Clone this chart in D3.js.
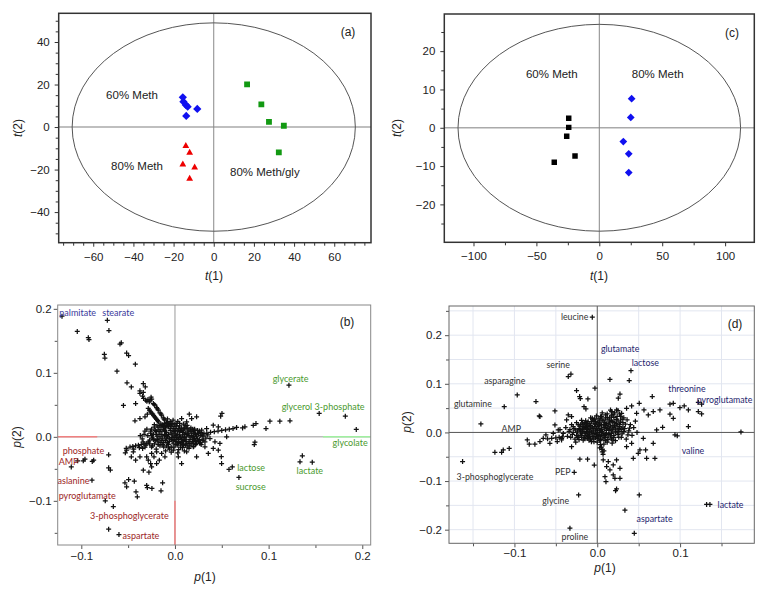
<!DOCTYPE html>
<html><head><meta charset="utf-8">
<script src="https://cdn.jsdelivr.net/npm/d3@7"></script>
<style>body{margin:0;background:#fff}svg{display:block}</style>
</head><body>
<svg id="c" width="774" height="593"></svg>
<script>
// ---------- DATA ----------
// Panel (a) scores
const scoresA_60 = [[-15.4,14.0],[-15.1,11.9],[-13.9,10.4],[-13.0,9.6],[-8.2,8.5],[-13.7,5.2]];
const scoresA_gly = [[16.6,20.1],[23.7,10.7],[27.5,2.4],[34.9,0.6],[32.4,-11.9]];
const scoresA_80 = [[-13.9,-8.9],[-12.0,-12.1],[-15.4,-17.6],[-9.5,-19.0],[-12.0,-24.3]];
const groupLabelsA = [["60% Meth",-53.6,15.1],["80% Meth",-51.1,-18.2],["80% Meth/gly",8.1,-21.0]];
const ellipseA = [70.5,49];
const xMajorA = [-60,-40,-20,0,20,40,60];
const xMinorA = [-75,-70,-65,-55,-50,-45,-35,-30,-25,-15,-10,-5,5,10,15,25,30,35,45,50,55,65,70,75];
const yMajorA = [-40,-20,0,20,40];
const yMinorA = [-50,-45,-35,-30,-25,-15,-10,-5,5,10,15,25,30,35,45,50];

// Panel (c) scores
const scoresC_60 = [[-24.3,2.5],[-24.3,0.1],[-25.9,-2.2],[-19.3,-7.4],[-35.8,-9.0]];
const scoresC_80 = [[25.7,7.6],[25.0,2.7],[19.1,-3.6],[23.4,-6.8],[23.4,-11.7]];
const groupLabelsC = [["60% Meth",-58.3,14.0],["80% Meth",25.8,14.0]];
const ellipseC = [112.3,27];
const xMajorC = [-100,-50,0,50,100];
const xMinorC = [-75,-25,25,75];
const yMajorC = [-20,-10,0,10,20];
const yMinorC = [-25,-15,-5,5,15,25];

// Panel (b) loadings
const loadingsB = [
 [-0.1206,0.1885],[-0.1043,0.1646],[-0.0925,0.155],[-0.0918,0.152],[-0.0722,0.182],[-0.0705,0.166],
 [-0.0587,0.145],[-0.0573,0.147],[-0.0754,0.129],[-0.0748,0.123],[-0.0516,0.131],[-0.0495,0.127],
 [-0.0423,0.1135],[-0.0619,0.1026],[-0.0512,0.0844],[-0.0466,0.078],[-0.0338,0.0833],[-0.0317,0.078],
 [-0.0374,0.068],[-0.0335,0.060],[-0.0249,0.059],[-0.0255,0.062],[-0.055,0.049],[-0.0288,0.0585],[-0.0300,0.0555],
 [-0.0338,0.0693],[-0.0374,0.0719],[-0.0345,0.0635],[-0.042,0.052],[-0.0313,0.0573],[-0.0274,0.0547],
 [-0.0231,0.052],[-0.0214,0.0495],[-0.0196,0.0458],[-0.0178,0.0417],[-0.016,0.0375],[-0.0142,0.0339],
 [-0.0125,0.0297],[-0.0107,0.026],[-0.0089,0.0219],[-0.0071,0.0182],[-0.0285,0.0443],[-0.026,0.039],
 [-0.0238,0.0354],[-0.0217,0.0313],[-0.0196,0.0271],[-0.0174,0.0234],[-0.0149,0.0198],[-0.0125,0.0156],
 [-0.0295,0.0354],[-0.032,0.0313],[-0.0374,0.0286],[-0.0427,0.025],
 [-0.0265,0.0573],[-0.0222,0.0507],[-0.0187,0.0437],[-0.0151,0.0357],[-0.0116,0.0278],[-0.008,0.020],
 [-0.0272,0.0416],[-0.0228,0.0333],[-0.0185,0.0252],[-0.0137,0.0177],[-0.0248,0.0372],[-0.0206,0.0292],
 [-0.030,0.012],[-0.026,0.006],[-0.024,-0.002],[-0.028,-0.008],[-0.022,0.015],[-0.020,0.008],[-0.019,0.001],
 [-0.021,-0.006],[-0.018,-0.012],[-0.016,0.018],[-0.015,0.011],[-0.014,0.004],[-0.013,-0.003],[-0.015,-0.009],
 [-0.012,-0.016],[-0.011,0.021],[-0.010,0.014],[-0.009,0.007],[-0.008,0.000],[-0.010,-0.006],[-0.007,-0.012],
 [-0.006,-0.019],[-0.005,0.024],[-0.004,0.017],[-0.005,0.010],[-0.003,0.003],[-0.004,-0.004],[-0.002,-0.010],
 [-0.001,-0.016],[0.000,0.020],[0.001,0.013],[0.000,0.006],[0.002,-0.001],[0.001,-0.007],[0.003,-0.013],
 [0.004,-0.020],[0.005,0.017],[0.006,0.010],[0.005,0.003],[0.007,-0.004],[0.006,-0.010],[0.008,-0.017],
 [0.010,0.013],[0.011,0.006],[0.010,-0.001],[0.012,-0.007],[0.011,-0.013],[0.014,0.009],[0.015,0.002],
 [0.016,-0.004],[0.014,-0.011],[0.018,0.006],[0.020,0.000],[0.019,-0.007],[0.022,0.004],[0.024,-0.003],
 [0.023,-0.010],[0.027,0.002],[0.029,-0.005],[0.026,0.009],[0.031,0.005],[0.033,-0.002],[-0.033,0.004],
 [-0.035,-0.003],[-0.031,-0.013],[-0.025,-0.016],[-0.020,-0.019],[0.017,0.014],[0.021,0.012],[0.009,0.020],
 [-0.002,0.026],[0.003,0.024],[-0.008,0.028],[0.013,0.018],[0.028,-0.012],[0.020,-0.015],[0.015,-0.018],
 [0.010,-0.022],[0.003,-0.025],[-0.004,-0.024],[-0.010,-0.022],
 [-0.032,0.009],[-0.029,0.002],[-0.027,-0.005],[-0.030,-0.010],[-0.025,0.012],[-0.023,0.004],[-0.022,-0.011],
 [-0.024,-0.014],[-0.019,0.017],[-0.018,0.011],[-0.017,0.004],[-0.017,-0.003],[-0.016,-0.014],[-0.013,0.019],
 [-0.012,0.012],[-0.011,0.008],[-0.011,0.002],[-0.012,-0.009],[-0.009,-0.014],[-0.008,0.022],[-0.007,0.016],
 [-0.007,0.004],[-0.006,-0.002],[-0.006,-0.007],[-0.004,-0.016],[-0.003,0.021],[-0.002,0.013],[-0.001,0.008],
 [-0.001,0.000],[0.000,-0.004],[0.001,-0.012],[0.002,0.017],[0.003,0.009],[0.003,0.004],[0.004,-0.003],
 [0.004,-0.009],[0.006,-0.016],[0.007,0.014],[0.008,0.007],[0.008,0.001],[0.009,-0.006],[0.009,-0.013],
 [0.012,0.015],[0.013,0.004],[0.012,0.000],[0.013,-0.016],[0.016,0.011],[0.017,0.000],[0.018,-0.010],
 [0.020,0.009],[0.021,-0.003],[0.022,-0.012],[0.025,0.005],[0.025,-0.007],[0.028,0.007],[0.030,0.001],
 [0.032,-0.008],[0.035,0.003],[-0.037,0.002],[-0.034,-0.008],
 [-0.052,-0.018],[-0.048,-0.016],[-0.045,-0.015],[-0.042,-0.014],[-0.039,-0.013],[-0.036,-0.012],
 [-0.033,-0.011],[-0.044,-0.019],[-0.038,-0.017],[-0.032,-0.016],
 [-0.0302,-0.0313],[-0.0285,-0.0365],[-0.026,-0.0417],[-0.0249,-0.0469],[-0.0338,-0.0521],[-0.0278,-0.0552],
 [-0.0196,-0.0417],[-0.0167,-0.0365],[-0.0224,-0.0313],[-0.0249,-0.026],[-0.0196,-0.0234],[-0.0142,-0.026],
 [-0.0107,-0.0313],
 [-0.0534,-0.0719],[-0.0495,-0.0667],[-0.0516,-0.0781],[-0.0434,-0.0693],[-0.0416,-0.0859],[-0.0402,-0.0938],
 [-0.0302,-0.076],[-0.0295,-0.0792],[-0.0246,-0.0807],[-0.0149,-0.0844],[-0.0132,-0.0719],[-0.053,-0.025],
 [-0.0516,-0.0208],[-0.0445,-0.0234],[-0.0466,-0.0313],[-0.042,-0.0365],[-0.0374,-0.0313],[-0.0345,-0.0182],
 [-0.0708,-0.028],[-0.0708,-0.0484],[-0.069,-0.052],
 [-0.1107,-0.047],[-0.1039,-0.0375],[-0.0979,-0.0375],[-0.0961,-0.0349],[-0.0883,-0.0385],[-0.0868,-0.0365],
 [-0.0886,-0.0677],[-0.0744,-0.1],[-0.0658,-0.109],[-0.0708,-0.1443],[-0.0598,-0.1526],
 [0.1217,0.0807],[0.154,0.0365],[0.1819,0.0323],[0.1936,0.0115],[0.1228,0.025],[0.112,0.0245],[0.1014,0.0245],
 [0.0972,0.013],[0.0836,0.018],[0.0865,0.0208],[0.0747,0.0156],[0.0722,0.014],[0.0658,0.0146],[0.062,0.013],
 [0.058,0.012],[0.054,0.011],[0.050,0.010],[0.046,0.009],[0.042,0.008],[0.038,0.007],[0.034,0.006],
 [0.0502,0.0365],[0.0488,0.0323],[0.0153,0.0354],[0.136,-0.0297],[0.1335,-0.039],[0.1466,-0.0396],
 [0.0854,-0.0083],[0.0847,-0.012],[0.0683,-0.0635],[0.0577,-0.051],[0.0612,-0.047],[0.0495,-0.031],[0.0498,-0.0417],
 [0.0409,0.0182],[0.0463,0.0156],[0.0285,0.0104],[0.0338,0.013],[0.0231,0.0313],[0.0178,0.0286],[0.0374,-0.0026],
 [0.0427,-0.0078],[0.0267,-0.0104],[0.032,-0.0156],[0.0196,-0.0156],[0.0125,-0.0234],[0.0231,-0.0313],
 [0.0356,-0.026],[0.0409,-0.0182],[0.0463,-0.0208],[0.0036,-0.0313],[-0.0018,-0.0208],[0.0071,-0.0417],
 [0.0302,-0.0052],[0.048,-0.0104],[0.0552,0],[0.016,-0.0104],[0.0125,0.0234],[0.0071,0.0286]
];
// dense core of (b)
const loadingsBCore = [
 [-0.021,0.010],[-0.020,0.004],[-0.019,-0.004],[-0.018,-0.008],[-0.017,0.015],[-0.016,0.008],[-0.015,0.000],
 [-0.014,-0.006],[-0.013,-0.012],[-0.012,0.016],[-0.011,0.010],[-0.010,0.003],[-0.009,-0.003],[-0.008,-0.009],
 [-0.007,-0.016],[-0.006,0.019],[-0.005,0.013],[-0.004,0.006],[-0.003,-0.001],[-0.002,-0.006],[-0.001,0.016],
 [0.000,0.010],[0.001,0.002],[0.002,-0.004],[0.003,-0.010],[0.004,0.013],[0.005,0.008],[0.006,-0.001],
 [0.007,-0.007],[0.008,-0.012],[0.009,0.011],[0.010,0.004],[0.011,-0.004],[0.012,-0.010],[0.013,0.013],
 [0.014,0.006],[0.015,-0.007],[0.016,-0.014],[0.017,0.009],[0.018,0.002],[0.019,-0.004],[0.020,-0.011],
 [0.021,0.006],[0.022,-0.006],[0.023,0.001],[0.024,0.010],[0.026,-0.004],[0.027,-0.009],[0.029,0.003],
 [-0.023,-0.004],[-0.025,0.002],[-0.026,0.009],[-0.027,-0.011],[-0.022,0.019],[0.019,0.012],[0.011,0.018],
 [0.005,0.021],[-0.004,0.020],[-0.009,0.018],[0.002,0.021]
];
const labelsB = [
 ["palmitate",-0.1235,0.194,"fa"],["stearate",-0.0776,0.194,"fa"],
 ["glycerate",0.1043,0.0911,"up"],["glycerol 3-phosphate",0.1139,0.0469,"up"],["glycolate",0.1683,-0.0094,"up"],
 ["lactose",0.0665,-0.0479,"up"],["lactate",0.1299,-0.0526,"up"],["sucrose",0.0648,-0.0771,"up"],
 ["phosphate",-0.1199,-0.0214,"down"],["AMP",-0.1242,-0.039,"down"],["aslanine",-0.1253,-0.0682,"down"],
 ["pyroglutamate",-0.1242,-0.0917,"down"],["3-phosphoglycerate",-0.0907,-0.1229,"down"],["aspartate",-0.0559,-0.1536,"down"]
];
const xMajorB = [-0.1,0,0.1,0.2];
const xMinorB = [-0.05,0.05,0.15];
const yMajorB = [-0.1,0,0.1,0.2];
const yMinorB = [-0.15,-0.05,0.05,0.15];

// Panel (d) loadings
const loadingsD = [
 [-0.006,0.237],[-0.035,0.115],[-0.0318,0.120],[0.0153,0.109],[0.0386,0.1066],[0.0407,0.127],[-0.0028,0.091],
 [-0.0966,0.077],[-0.074,0.0634],[-0.1123,0.053],[-0.025,0.086],[-0.0213,0.0737],[-0.0205,0.0696],[-0.0113,0.069],
 [0.0274,0.079],[0.0254,0.0703],[0.0507,0.06],[0.0664,0.0737],[0.0878,0.058],[0.0918,0.06],[0.0998,0.051],
 [0.105,0.0545],[0.122,0.062],[0.126,0.058],[-0.0511,0.0442],[-0.07,0.034],[-0.035,0.036],[-0.031,0.0326],
 [-0.016,0.053],[-0.0137,0.0484],[0.0354,0.0497],[0.0415,0.0545],[0.0564,0.0463],[0.0676,0.0429],[0.0757,0.0463],
 [0.0878,0.0374],[0.0475,0.0394],[0.0616,0.036],[0.0294,0.0394],[0.0233,0.0463],[0.0173,0.0429],
 [-0.1405,0.0175],[-0.1626,-0.060],[-0.1236,-0.041],[-0.1155,-0.041],[-0.1135,-0.036],[-0.1063,-0.033],
 [-0.0278,-0.082],[-0.0225,-0.1286],[-0.033,-0.197],[0.0334,-0.16],[0.0447,-0.2075],[0.0507,-0.1286],
 [0.132,-0.148],[0.136,-0.148],[0.1735,0.001],[0.11,0.012],[0.0938,-0.005],[0.0966,-0.007],[0.0789,0.0106],
 [-0.021,-0.055],[-0.0117,-0.055],[-0.0036,-0.067],
 [0.0093,-0.0909],[0.0105,-0.1012],[0.0193,-0.0874],[0.0213,-0.0943],[0.0274,-0.0943],[0.0233,-0.1163],
 [0.0221,-0.1197],[0.0153,-0.0772],[0.0113,-0.0703],[0.0193,-0.0669],[0.0274,-0.0737],[0.0133,-0.06],
 [0.0072,-0.0566],[0.0233,-0.0566],
 [0.0676,-0.0223],[0.0596,-0.0532],[0.0696,-0.0532],[0.0584,-0.036],[0.0515,-0.036],[0.0435,-0.0532],
 [0.0495,-0.0429],[0.0354,-0.0292],[0.0415,-0.0223],[0.0556,-0.012],[0.0717,0.0051],[0.0918,0.0291],
 [0.11,0.0463],[0.122,0.0429],[0.126,0.038],
 [-0.0821,-0.0243],[-0.0753,-0.0243],[-0.0845,-0.0154],[-0.0692,-0.0189],[-0.062,-0.0051],[-0.0652,-0.012],
 [-0.0511,0.0154],[-0.0531,-0.0017],[-0.0471,0.0051],[-0.0431,-0.0154],[-0.0572,-0.0223],[-0.0692,0.0326],
 [-0.037,0.0257],[-0.0483,-0.0189],[-0.031,-0.0292],
 [-0.060,-0.013],[-0.055,-0.012],[-0.050,-0.011],[-0.046,-0.010],[-0.042,-0.009],
 [0.004,-0.025],[0.005,-0.030],[0.006,-0.035],[0.006,-0.040],[0.007,-0.045],[0.003,-0.032],[0.008,-0.038],
 [-0.038,0.010],[-0.034,0.002],[-0.036,-0.008],[-0.031,0.016],[-0.030,-0.004],[-0.028,0.008],[-0.027,-0.014],
 [-0.025,0.020],[-0.024,0.001],[-0.023,-0.009],[-0.021,0.013],[-0.020,-0.003],[-0.019,0.025],[-0.018,0.006],
 [-0.017,-0.016],[-0.016,0.017],[-0.015,-0.007],[-0.014,0.010],[-0.013,0.001],[-0.012,-0.012],[-0.011,0.022],
 [-0.010,0.005],[-0.009,-0.005],[-0.008,0.014],[-0.007,-0.019],[-0.006,0.029],[-0.005,0.008],[-0.004,-0.002],
 [-0.003,0.018],[-0.002,-0.011],[-0.001,0.034],[0.000,0.003],[0.001,0.012],[0.002,-0.006],[0.003,0.024],
 [0.004,-0.015],[0.005,0.006],[0.006,0.040],[0.007,-0.002],[0.008,0.016],[0.009,-0.010],[0.010,0.030],
 [0.011,0.004],[0.012,-0.020],[0.013,0.011],[0.014,-0.004],[0.015,0.021],[0.016,0.046],[0.017,-0.013],
 [0.018,0.007],[0.019,0.037],[0.020,-0.006],[0.021,0.015],[0.022,-0.017],[0.023,0.027],[0.024,0.002],
 [0.025,0.045],[0.026,-0.010],[0.027,0.012],[0.028,0.033],[0.030,-0.003],[0.031,0.020],[0.033,0.008],
 [0.035,-0.014],[0.036,0.026],[0.038,0.003],[0.040,0.016],[0.042,-0.006],[0.044,0.010],[-0.041,-0.002],
 [-0.045,0.006],[-0.043,-0.012],[0.046,0.023],[0.048,0.000],[-0.026,-0.020],[0.008,-0.024],[0.000,-0.020],
 [-0.010,-0.016],[0.015,0.030],[0.004,0.032],[0.021,0.040],[0.012,0.038],[-0.002,0.022],[0.018,-0.022],
 [-0.033,0.006],[-0.032,-0.010],[-0.029,0.012],[-0.029,0.000],[-0.026,0.005],[-0.025,-0.006],[-0.023,0.016],
 [-0.022,0.008],[-0.022,-0.015],[-0.020,0.003],[-0.019,-0.010],[-0.018,0.019],[-0.017,0.012],[-0.016,0.002],
 [-0.015,-0.013],[-0.014,0.024],[-0.013,0.015],[-0.012,0.006],[-0.011,-0.003],[-0.010,-0.010],[-0.009,0.018],
 [-0.008,0.009],[-0.007,0.001],[-0.006,-0.008],[-0.005,-0.014],[-0.004,0.026],[-0.003,0.012],[-0.002,0.005],
 [-0.001,-0.004],[0.000,-0.012],[0.001,0.020],[0.002,0.008],[0.003,0.000],[0.004,-0.009],[0.005,0.016],
 [0.006,0.002],[0.007,-0.013],[0.008,0.024],[0.009,0.010],[0.010,-0.004],[0.011,0.018],[0.012,-0.010],
 [0.013,0.026],[0.014,0.004],[0.016,0.013],[0.017,-0.002],[0.018,0.022],[0.019,-0.016],[0.020,0.010],
 [0.022,0.001],[0.023,0.018],[0.025,-0.004],[0.026,0.008],[0.028,0.021],[0.029,-0.010],[0.031,0.011],
 [0.032,0.002],[0.034,0.017],[0.037,-0.005],[0.039,0.009],[0.002,0.028],[0.010,0.036],[-0.008,0.030],
 [0.020,0.031],[0.027,0.038],[0.032,0.030]
];
// dense core of (d)
const loadingsDCore = [
 [-0.021,0.006],[-0.020,0.016],[-0.019,-0.006],[-0.018,0.001],[-0.017,0.009],[-0.016,-0.010],[-0.015,0.020],
 [-0.014,-0.002],[-0.013,0.008],[-0.012,0.018],[-0.011,-0.008],[-0.010,0.012],[-0.009,0.001],[-0.008,-0.013],
 [-0.007,0.022],[-0.006,0.011],[-0.005,0.003],[-0.004,-0.008],[-0.003,0.028],[-0.002,0.016],[-0.001,0.008],
 [0.000,-0.001],[0.001,-0.009],[0.002,0.014],[0.003,0.019],[0.004,0.004],[0.005,-0.005],[0.006,0.026],
 [0.007,0.010],[0.008,-0.006],[0.009,0.020],[0.010,0.014],[0.011,-0.002],[0.012,0.008],[0.013,-0.015],
 [0.014,0.017],[0.015,0.007],[0.016,-0.007],[0.017,0.025],[0.018,0.003],[0.019,0.014],[0.020,-0.010],
 [0.021,0.020],[0.022,0.007],[0.024,0.013],[0.025,0.024],[0.026,0.002],[0.027,0.016],[0.029,0.006],
 [0.030,0.027],[0.005,0.033],[0.012,0.031],[-0.005,0.024],[0.017,0.034],[0.024,0.033],[-0.012,-0.006],
 [0.003,-0.017],[-0.004,-0.019],[0.010,-0.017],[-0.024,-0.010]
];
const labelsD = [
 ["leucine",-0.0439,0.2383,"dark"],["glutamate",0.0044,0.1718,"navy"],["lactose",0.0415,0.1444,"navy"],
 ["serine",-0.0612,0.1403,"dark"],["asparagine",-0.1365,0.1067,"dark"],["threonine",0.0857,0.0909,"navy"],
 ["pyroglutamate",0.12,0.0682,"navy"],["glutamine",-0.1731,0.06,"dark"],["AMP",-0.1155,0.0086,"dark"],
 ["valine",0.1019,-0.0374,"navy"],["3-phosphoglycerate",-0.1699,-0.0909,"dark"],["PEP",-0.0511,-0.0813,"dark"],
 ["glycine",-0.0664,-0.141,"dark"],["lactate",0.1453,-0.1492,"navy"],["aspartate",0.0475,-0.1766,"navy"],
 ["proline",-0.0431,-0.2143,"dark"]
];
const xMajorD = [-0.1,0,0.1];
const xMinorD = [-0.15,-0.05,0.05,0.15];
const yMajorD = [-0.2,-0.1,0,0.1,0.2];
const yMinorD = [-0.15,-0.05,0.05,0.15,0.25];
const gridD = [-0.2,-0.15,-0.1,-0.05,0.05,0.1,0.15,0.2,0.25];

// ---------- DRAW ----------
const svg = d3.select("#c");
const FONT = "'Liberation Sans', Arial, sans-serif";
const LFONT = "Lato, 'Open Sans', sans-serif";
const cross = "M-2.5,0H2.5M0,-2.5V2.5";

function panel(o){
  const x = d3.scaleLinear().domain(o.xd).range([o.l,o.r]);
  const y = d3.scaleLinear().domain(o.yd).range([o.b,o.t]);
  const g = svg.append("g");
  const id = "clip"+o.name;
  svg.append("clipPath").attr("id",id).append("rect")
     .attr("x",o.l).attr("y",o.t).attr("width",o.r-o.l).attr("height",o.b-o.t);
  const pg = g.append("g").attr("clip-path",`url(#${id})`);
  const ax = (axis, vals, size, pad, fmt, tr) => {
    const a = g.append("g").attr("transform",tr)
      .call(axis.tickValues(vals).tickSize(size).tickSizeOuter(0).tickPadding(pad).tickFormat(fmt));
    a.select(".domain").remove();
    a.selectAll("line").attr("stroke",o.tickColor);
    a.selectAll("text").attr("font-family",FONT).attr("font-size",11.5).attr("fill","#222");
    return a;
  };
  ax(d3.axisBottom(x), o.xMajor, 4, o.xpad, o.fmt, `translate(0,${o.b})`);
  ax(d3.axisBottom(x), o.xMinor, 3, 3, "", `translate(0,${o.b})`);
  ax(d3.axisLeft(y), o.yMajor, 4, o.ypad, o.fmt, `translate(${o.l},0)`);
  ax(d3.axisLeft(y), o.yMinor, 3, 3, "", `translate(${o.l},0)`);
  const t1 = g.append("text").attr("x",o.xtx).attr("y",o.xty).attr("text-anchor","middle")
     .attr("font-family",FONT).attr("font-size",12).attr("fill","#222");
  t1.append("tspan").attr("font-style","italic").text(o.v);
  t1.append("tspan").text("(1)");
  const t2 = g.append("text").attr("transform",`translate(${o.ytx},${o.yty}) rotate(-90)`).attr("text-anchor","middle")
     .attr("font-family",FONT).attr("font-size",12).attr("fill","#222");
  t2.append("tspan").attr("font-style","italic").text(o.v);
  t2.append("tspan").text("(2)");
  return {x,y,g,pg};
}

// ---- (a)
{
  const p = panel({name:"a",xd:[-77.2,78.3],yd:[-54.4,53.5],l:58.7,r:371,t:13.3,b:242.7,
    xMajor:xMajorA,xMinor:xMinorA,yMajor:yMajorA,yMinor:yMinorA,fmt:d3.format("d"),tickColor:"#333",
    xpad:6,ypad:5,v:"t",xtx:214,xty:280,ytx:22,yty:128});
  const {x,y,pg,g} = p;
  pg.append("line").attr("x1",x(-80)).attr("x2",x(80)).attr("y1",y(0)).attr("y2",y(0)).attr("stroke","#aaa").attr("stroke-width",1.5);
  pg.append("line").attr("x1",x(0)).attr("x2",x(0)).attr("y1",y(-60)).attr("y2",y(60)).attr("stroke","#888").attr("stroke-width",1);
  pg.append("ellipse").attr("cx",x(0)).attr("cy",y(0)).attr("rx",x(ellipseA[0])-x(0)).attr("ry",y(0)-y(ellipseA[1]))
    .attr("fill","none").attr("stroke","#555").attr("stroke-width",1);
  pg.selectAll(".d").data(scoresA_60).join("path")
    .attr("d",d3.symbol(d3.symbolSquare,34)).attr("fill","#1010f0")
    .attr("transform",d=>`translate(${x(d[0])},${y(d[1])}) rotate(45)`);
  pg.selectAll(".s").data(scoresA_gly).join("path")
    .attr("d",d3.symbol(d3.symbolSquare,34)).attr("fill","#129912")
    .attr("transform",d=>`translate(${x(d[0])},${y(d[1])})`);
  pg.selectAll(".t").data(scoresA_80).join("path")
    .attr("d",d3.symbol(d3.symbolTriangle,20)).attr("fill","#ee0000")
    .attr("transform",d=>`translate(${x(d[0])},${y(d[1])})`);
  g.selectAll(".gl").data(groupLabelsA).join("text").attr("x",d=>x(d[1])).attr("y",d=>y(d[2]))
    .attr("font-family",FONT).attr("font-size",11.5).attr("fill","#222").attr("dominant-baseline","central").text(d=>d[0]);
  g.append("rect").attr("x",58.7).attr("y",13.3).attr("width",312.3).attr("height",229.4).attr("fill","none").attr("stroke","#333").attr("stroke-width",1.5);
  g.append("text").attr("x",348).attr("y",32).attr("text-anchor","middle").attr("dominant-baseline","central")
    .attr("font-family",FONT).attr("font-size",12).attr("fill","#222").text("(a)");
}

// ---- (c)
{
  const p = panel({name:"c",xd:[-123.2,123.2],yd:[-29.9,29.7],l:444.3,r:754.3,t:14,b:242.3,
    xMajor:xMajorC,xMinor:xMinorC,yMajor:yMajorC,yMinor:yMinorC,fmt:d3.format("d"),tickColor:"#333",
    xpad:6,ypad:5,v:"t",xtx:599,xty:280,ytx:401,yty:128});
  const {x,y,pg,g} = p;
  pg.append("line").attr("x1",x(-130)).attr("x2",x(130)).attr("y1",y(0)).attr("y2",y(0)).attr("stroke","#aaa").attr("stroke-width",1.5);
  pg.append("line").attr("x1",x(0)).attr("x2",x(0)).attr("y1",y(-40)).attr("y2",y(40)).attr("stroke","#888").attr("stroke-width",1);
  pg.append("ellipse").attr("cx",x(0)).attr("cy",y(0)).attr("rx",x(ellipseC[0])-x(0)).attr("ry",y(0)-y(ellipseC[1]))
    .attr("fill","none").attr("stroke","#555").attr("stroke-width",1);
  pg.selectAll(".s").data(scoresC_60).join("path")
    .attr("d",d3.symbol(d3.symbolSquare,30)).attr("fill","#000")
    .attr("transform",d=>`translate(${x(d[0])},${y(d[1])})`);
  pg.selectAll(".d").data(scoresC_80).join("path")
    .attr("d",d3.symbol(d3.symbolSquare,30)).attr("fill","#1010f0")
    .attr("transform",d=>`translate(${x(d[0])},${y(d[1])}) rotate(45)`);
  g.selectAll(".gl").data(groupLabelsC).join("text").attr("x",d=>x(d[1])).attr("y",d=>y(d[2]))
    .attr("font-family",FONT).attr("font-size",11.5).attr("fill","#222").attr("dominant-baseline","central").text(d=>d[0]);
  g.append("rect").attr("x",444.3).attr("y",14).attr("width",310).attr("height",228.3).attr("fill","none").attr("stroke","#333").attr("stroke-width",1.5);
  g.append("text").attr("x",732).attr("y",33).attr("text-anchor","middle").attr("dominant-baseline","central")
    .attr("font-family",FONT).attr("font-size",12).attr("fill","#222").text("(c)");
}

// ---- (b)
{
  const p = panel({name:"b",xd:[-0.1252,0.209],yd:[-0.169,0.206],l:57.7,r:370.7,t:305,b:545,
    xMajor:xMajorB,xMinor:xMinorB,yMajor:yMajorB,yMinor:yMinorB,fmt:d3.format(".1f"),tickColor:"#555",
    xpad:3,ypad:2,v:"p",xtx:205,xty:581,ytx:21,yty:437});
  const {x,y,pg,g} = p;
  pg.append("line").attr("x1",x(-0.2)).attr("x2",x(0.3)).attr("y1",y(0)).attr("y2",y(0)).attr("stroke","#bbb").attr("stroke-width",1.5);
  pg.append("line").attr("x1",x(0)).attr("x2",x(0)).attr("y1",y(-0.2)).attr("y2",y(0.3)).attr("stroke","#bbb").attr("stroke-width",1.5);
  pg.append("line").attr("x1",x(-0.2)).attr("x2",x(-0.083)).attr("y1",y(0)).attr("y2",y(0)).attr("stroke","#f08080").attr("stroke-width",1.5);
  pg.append("line").attr("x1",x(0)).attr("x2",x(0)).attr("y1",y(-0.1)).attr("y2",y(-0.2)).attr("stroke","#f08080").attr("stroke-width",1.5);
  pg.append("line").attr("x1",x(0.158)).attr("x2",x(0.3)).attr("y1",y(0)).attr("y2",y(0)).attr("stroke","#a0f0a0").attr("stroke-width",1.5);
  pg.selectAll(".m").data(loadingsB.concat(loadingsBCore)).join("path").attr("d",cross).attr("stroke","#111").attr("stroke-width",1.25)
    .attr("transform",d=>`translate(${x(d[0])},${y(d[1])})`);
  const col = {fa:"#3a3a9c",up:"#4a9a2e",down:"#9c2626"};
  g.selectAll(".lb").data(labelsB).join("text").attr("x",d=>x(d[1])).attr("y",d=>y(d[2]))
    .attr("dominant-baseline","central").attr("font-family",LFONT).attr("font-size",9).attr("fill",d=>col[d[3]]).text(d=>d[0]);
  g.append("rect").attr("x",57.7).attr("y",305).attr("width",313).attr("height",240).attr("fill","none").attr("stroke","#888").attr("stroke-width",1);
  g.append("text").attr("x",347).attr("y",322).attr("text-anchor","middle").attr("dominant-baseline","central")
    .attr("font-family",FONT).attr("font-size",12).attr("fill","#222").text("(b)");
}

// ---- (d)
{
  const p = panel({name:"d",xd:[-0.179,0.1896],yd:[-0.228,0.26],l:449,r:754.3,t:306,b:543.3,
    xMajor:xMajorD,xMinor:xMinorD,yMajor:yMajorD,yMinor:yMinorD,fmt:d3.format(".1f"),tickColor:"#555",
    xpad:2,ypad:3,v:"p",xtx:605,xty:572,ytx:411,yty:422});
  const {x,y,pg,g} = p;
  pg.selectAll(".gx").data(gridD).join("line").attr("x1",d=>x(d)).attr("x2",d=>x(d)).attr("y1",y(-0.3)).attr("y2",y(0.3))
    .attr("stroke","#e2e6f0").attr("stroke-width",1);
  pg.selectAll(".gy").data(gridD).join("line").attr("y1",d=>y(d)).attr("y2",d=>y(d)).attr("x1",x(-0.3)).attr("x2",x(0.3))
    .attr("stroke","#e2e6f0").attr("stroke-width",1);
  pg.append("line").attr("x1",x(-0.3)).attr("x2",x(0.3)).attr("y1",y(0)).attr("y2",y(0)).attr("stroke","#555").attr("stroke-width",1);
  pg.append("line").attr("x1",x(0)).attr("x2",x(0)).attr("y1",y(-0.3)).attr("y2",y(0.3)).attr("stroke","#555").attr("stroke-width",1);
  pg.selectAll(".m").data(loadingsD.concat(loadingsDCore)).join("path").attr("d",cross).attr("stroke","#111").attr("stroke-width",1.25)
    .attr("transform",d=>`translate(${x(d[0])},${y(d[1])})`);
  const col = {dark:"#333",navy:"#1e1e6e"};
  g.selectAll(".lb").data(labelsD).join("text").attr("x",d=>x(d[1])).attr("y",d=>y(d[2]))
    .attr("dominant-baseline","central").attr("font-family",LFONT).attr("font-size",8.8).attr("fill",d=>col[d[3]]).text(d=>d[0]);
  g.append("rect").attr("x",449).attr("y",306).attr("width",305.3).attr("height",237.3).attr("fill","none").attr("stroke","#666").attr("stroke-width",1);
  g.append("text").attr("x",735).attr("y",324).attr("text-anchor","middle").attr("dominant-baseline","central")
    .attr("font-family",FONT).attr("font-size",12).attr("fill","#222").text("(d)");
}
</script>
</body></html>
